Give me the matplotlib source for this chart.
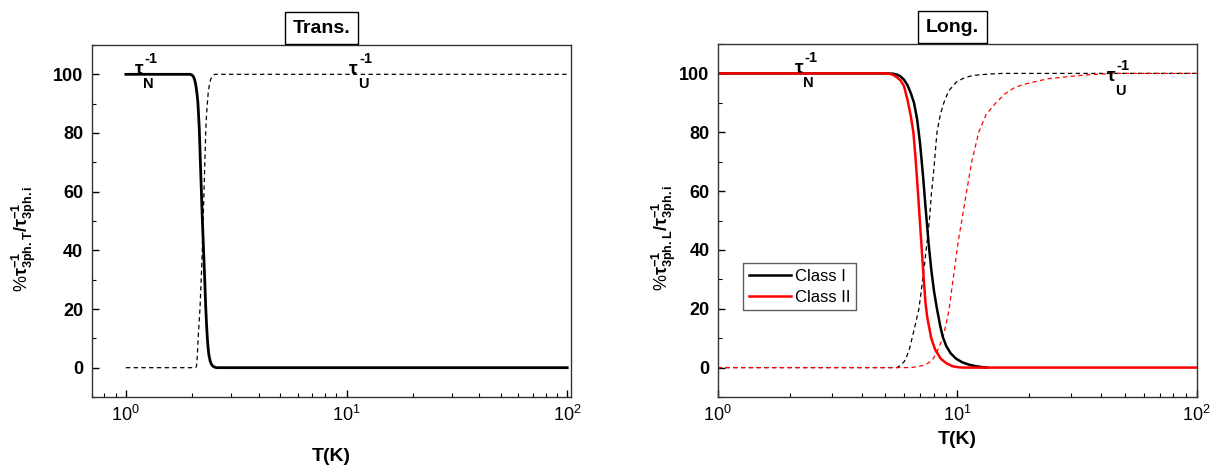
import matplotlib as mpl
import matplotlib.pyplot as plt
import matplotlib.transforms as mtransforms
from matplotlib.ticker import MultipleLocator, LogLocator, NullFormatter

# Trans. panel
T_TR_N = [1.0, 1.95, 1.99, 2.02, 2.04, 2.06, 2.08, 2.10, 2.12, 2.15, 2.19, 2.22, 2.25,
          2.28, 2.30, 2.32, 2.34, 2.36, 2.38, 2.41, 2.44, 2.48, 2.53, 2.58, 2.65, 100]
V_TR_N = [100, 100, 99.8, 99.3, 98.6, 97.5, 95.8, 93.5, 90.5, 82, 64, 51, 40,
          29, 21, 15, 10, 6.5, 4.2, 2.3, 1.2, 0.5, 0.15, 0, 0, 0]
T_TR_U = [1.0, 2.07, 2.09, 2.10, 2.11, 2.13, 2.15, 2.17, 2.20, 2.22, 2.24, 2.26, 2.28,
          2.30, 2.32, 2.34, 2.36, 2.39, 2.42, 2.45, 2.49, 2.53, 100]
V_TR_U = [0, 0, 0.5, 2, 5, 11, 16, 21, 32, 40, 50, 60, 70,
          80, 86, 90, 93.5, 96.5, 98.2, 99.1, 99.7, 100, 100]

# Long. panel, Class I / Class II
T_L1_N = [1.0, 5.0, 5.4, 5.6, 5.8, 6.0, 6.2, 6.4, 6.6, 6.8, 7.0, 7.2, 7.4, 7.6, 7.8,
          8.0, 8.23, 8.5, 8.7, 9.0, 9.4, 9.9, 10.5, 11.2, 11.9, 12.6, 13.3]
V_L1_N = [100, 100, 99.9, 99.6, 99, 97.8, 96, 93.3, 90, 84.5, 76, 65, 53, 42, 33,
          26, 20, 14, 10.5, 7.3, 4.8, 3, 1.8, 1, 0.5, 0.2, 0]
T_L2_N = [1.0, 5.0, 5.2, 5.4, 5.6, 5.8, 6.0, 6.2, 6.4, 6.56, 6.7, 6.85, 6.98, 7.1,
          7.25, 7.37, 7.5, 7.79, 8.1, 8.54, 9.0, 9.53, 10.0, 10.6, 100]
V_L2_N = [100, 100, 99.9, 99.5, 98.7, 97.6, 95.6, 91, 85.5, 80, 71, 60, 50, 41,
          30, 22, 17, 10, 6, 3, 1.5, 0.5, 0.15, 0, 0]
T_L1_U = [1.0, 5.6, 5.8, 6.0, 6.1, 6.3, 6.48, 6.7, 6.92, 7.1, 7.3, 7.5, 7.65, 7.8,
          8.0, 8.23, 8.5, 8.79, 9.2, 9.9, 10.7, 11.5, 12.3, 13.8, 15.4, 100]
V_L1_U = [0, 0, 0.8, 2, 3, 6, 10, 15, 20, 27, 35, 43.5, 50, 59,
          68, 80, 86, 90, 94, 97, 98.5, 99.2, 99.5, 99.8, 100, 100]
T_L2_U = [1.0, 6.4, 6.8, 7.1, 7.37, 7.65, 7.94, 8.3, 8.7, 9.0, 9.26, 9.5, 9.8, 10.1,
          10.45, 10.9, 11.5, 12.3, 13.2, 14.5, 15.8, 17.2, 18.8, 20.6, 24, 29.8, 36, 46, 100]
V_L2_U = [0, 0, 0.3, 0.6, 1, 1.8, 3, 6, 10, 15, 20, 27, 35, 43,
          50, 59, 70, 80, 86, 90, 93, 95, 96.2, 97, 98.2, 99, 99.6, 100, 100]

Y_TICKS = [0, 20, 40, 60, 80, 100]

mpl.rcParams.update({
    "font.family": "Liberation Sans",
    "mathtext.fontset": "custom",
    "mathtext.rm": "Liberation Sans",
    "mathtext.it": "Liberation Sans:italic",
    "mathtext.bf": "Liberation Sans:bold",
    "mathtext.default": "regular",
})

DASH = (0, (3.5, 2.7))


def style_axes(ax, xlim, ylabel, title, title_x):
    ax.set_xscale("log")
    ax.set_xlim(*xlim)
    ax.set_ylim(-10, 110)
    ax.set_yticks(Y_TICKS)
    ax.yaxis.set_minor_locator(MultipleLocator(10))
    ax.xaxis.set_major_locator(LogLocator(base=10))
    ax.xaxis.set_minor_locator(LogLocator(base=10, subs=range(2, 10)))
    ax.xaxis.set_minor_formatter(NullFormatter())
    ax.tick_params(which="both", direction="in", top=False, right=False)
    ax.tick_params(which="major", length=5, width=1, labelsize=13, pad=6)
    ax.tick_params(which="minor", length=3, width=0.8)
    for lab in ax.get_yticklabels():
        lab.set_fontweight("bold")
    for sp in ax.spines.values():
        sp.set_linewidth(1.0)
        sp.set_color("#333333")
    ax.set_ylabel(ylabel, fontsize=13)
    trans = mtransforms.offset_copy(ax.transAxes, fig=ax.figure, x=0, y=6, units="points")
    ax.text(title_x, 1.0, title, transform=trans, ha="center", va="bottom",
            fontsize=14, fontweight="bold",
            bbox=dict(boxstyle="square,pad=0.4", fc="white", ec="black", lw=1.0))


def tau_label(ax, x, y, sub):
    # tau with its "-1" and subscript set at nearly full size, as in the original
    ax.text(x, y, "\u03c4", fontsize=14, fontweight="bold", ha="left", va="baseline")
    up = mtransforms.offset_copy(ax.transData, fig=ax.figure, x=7, y=8.5, units="points")
    dn = mtransforms.offset_copy(ax.transData, fig=ax.figure, x=6, y=-10, units="points")
    ax.text(x, y, "-1", transform=up, fontsize=10.5, fontweight="bold", ha="left", va="baseline")
    ax.text(x, y, sub, transform=dn, fontsize=10.5, fontweight="bold", ha="left", va="baseline")


fig = plt.figure(figsize=(12.19, 4.70), dpi=100)

# ---- Trans. ----
ax1 = fig.add_axes([0.0752, 0.1553, 0.3932, 0.749])
ax1.plot(T_TR_U, V_TR_U, color="black", lw=0.9, ls=DASH)
ax1.plot(T_TR_N, V_TR_N, color="black", lw=2.0)
style_axes(ax1, (0.7, 104),
           r"%$\mathbf{\tau_{3ph.T}^{-1}/\tau_{3ph.i}^{-1}}$", "Trans.", 0.48)
ax1.yaxis.set_label_coords(-0.112, 0.45)
ax1.set_xlabel("T(K)", fontsize=14, fontweight="bold", labelpad=16)
tau_label(ax1, 1.1, 100, "N")
tau_label(ax1, 10.3, 100, "U")

# ---- Long. ----
ax2 = fig.add_axes([0.5888, 0.1553, 0.3929, 0.7511])
ax2.plot(T_L1_U, V_L1_U, color="black", lw=0.9, ls=DASH)
ax2.plot(T_L2_U, V_L2_U, color="red", lw=0.9, ls=DASH)
ax2.plot(T_L1_N, V_L1_N, color="black", lw=1.8, label="Class I")
ax2.plot(T_L2_N, V_L2_N, color="red", lw=1.8, label="Class II")
style_axes(ax2, (1, 100),
           r"%$\mathbf{\tau_{3ph.L}^{-1}/\tau_{3ph.i}^{-1}}$", "Long.", 0.49)
ax2.yaxis.set_label_coords(-0.083, 0.45)
ax2.set_xlabel("T(K)", fontsize=14, fontweight="bold", labelpad=4)
tau_label(ax2, 2.1, 100, "N")
tau_label(ax2, 42, 97.3, "U")
leg = ax2.legend(loc="upper left", bbox_to_anchor=(0.053, 0.38), fontsize=12,
                 frameon=True, fancybox=False, edgecolor="#333333",
                 handlelength=2.5, handletextpad=0.25, borderpad=0.35,
                 labelspacing=0.35, borderaxespad=0)
leg.get_frame().set_linewidth(1.0)

fig.savefig("out.png", dpi=100)
